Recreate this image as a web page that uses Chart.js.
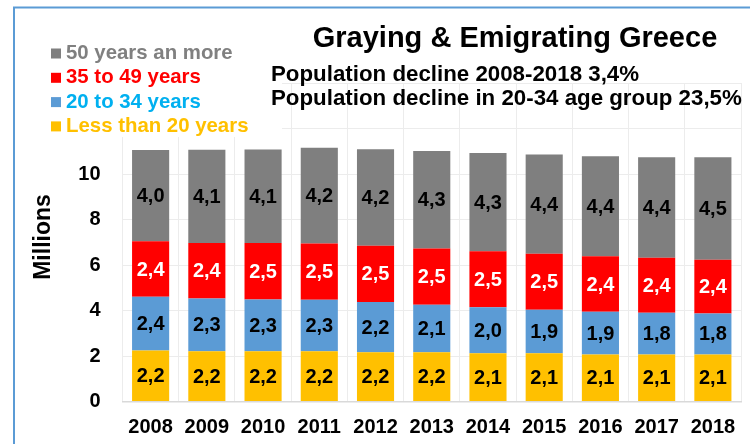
<!DOCTYPE html>
<html>
<head>
<meta charset="utf-8">
<script src="https://cdn.jsdelivr.net/npm/chart.js@4"></script>
<style>
  html, body { margin: 0; padding: 0; background: #fff; }
  #wrap { width: 750px; height: 444px; position: relative; }
</style>
</head>
<body>
<div id="wrap"><canvas id="popChart" width="750" height="444"></canvas></div>
<script>
// Population of Greece by age group, millions
const years = ["2008", "2009", "2010", "2011", "2012", "2013", "2014", "2015", "2016", "2017", "2018"];
const under20 = [2.24, 2.21, 2.21, 2.21, 2.17, 2.17, 2.12, 2.12, 2.07, 2.07, 2.07];
const age20to34 = [2.36, 2.32, 2.27, 2.26, 2.20, 2.08, 2.02, 1.91, 1.88, 1.83, 1.80];
const age35to49 = [2.44, 2.44, 2.49, 2.48, 2.48, 2.47, 2.46, 2.47, 2.43, 2.42, 2.36];
const age50plus = [4.02, 4.10, 4.11, 4.20, 4.24, 4.29, 4.32, 4.36, 4.40, 4.42, 4.51];
const yTicksShown = [0, 2, 4, 6, 8, 10];

const titleText = "Graying & Emigrating Greece";
const subLines = ["Population decline 2008-2018 3,4%", "Population decline in 20-34 age group 23,5%"];
const yTitle = "Millions";

const FONT = "'Liberation Sans', Arial, sans-serif";

// legend drawn top-left, oldest group first
const legendItems = [
    { text: "50 years an more", box: "#7f7f7f", color: "#808080" },
    { text: "35 to 49 years", box: "#ff0000", color: "#ff0000" },
    { text: "20 to 34 years", box: "#5b9bd5", color: "#00b0f0" },
    { text: "Less than 20 years", box: "#ffc000", color: "#ffc000" }
];

// ==========================
//   labels inside segments
// ==========================
const segmentLabels = {
    id: "segmentLabels",
    afterDatasetsDraw(chart) {
        const ctx = chart.ctx;
        ctx.save();
        ctx.font = "bold 20px " + FONT;
        ctx.textAlign = "center";
        ctx.textBaseline = "middle";
        chart.data.datasets.forEach((ds, i) => {
            const meta = chart.getDatasetMeta(i);
            meta.data.forEach((bar, j) => {
                const txt = ds.data[j].toFixed(1).replace(".", ",");
                ctx.fillStyle = ds.labelColor;
                ctx.fillText(txt, bar.x, (bar.y + bar.base) / 2 + 1);
            });
        });
        ctx.restore();
    }
};

// ==========================
//   legend, titles, frame
// ==========================
const overlay = {
    id: "overlay",
    afterDraw(chart) {
        const ctx = chart.ctx;
        ctx.save();

        // white block behind the legend
        ctx.fillStyle = "#fff";
        ctx.fillRect(15, 9, 267, 128);

        ctx.font = "bold 20.4px " + FONT;
        ctx.textAlign = "left";
        ctx.textBaseline = "alphabetic";
        legendItems.forEach((it, k) => {
            const base = 59 + k * 24.3;
            ctx.fillStyle = it.box;
            ctx.fillRect(51, base - 10.5, 10, 10);
            ctx.fillStyle = it.color;
            ctx.fillText(it.text, 66, base);
        });

        ctx.fillStyle = "#000";
        ctx.font = "bold 29px " + FONT;
        ctx.textAlign = "center";
        ctx.fillText(titleText, 515, 47);

        ctx.font = "bold 22.3px " + FONT;
        ctx.textAlign = "left";
        ctx.fillText(subLines[0], 271, 81);
        ctx.fillText(subLines[1], 271, 105);

        // axis title
        ctx.save();
        ctx.translate(43.5, 237);
        ctx.rotate(-Math.PI / 2);
        ctx.font = "bold 23px " + FONT;
        ctx.textAlign = "center";
        ctx.textBaseline = "middle";
        ctx.fillText(yTitle, 0, 0);
        ctx.restore();

        // slide frame
        ctx.strokeStyle = "#5b9bd5";
        ctx.lineWidth = 2;
        ctx.beginPath();
        ctx.moveTo(14, 444);
        ctx.lineTo(14, 7.5);
        ctx.lineTo(750, 7.5);
        ctx.stroke();

        ctx.restore();
    }
};

const ctx = document.getElementById("popChart").getContext("2d");

new Chart(ctx, {
    type: "bar",
    data: {
        labels: years,
        datasets: [
            { label: "Less than 20 years", data: under20, backgroundColor: "#ffc000", labelColor: "#000" },
            { label: "20 to 34 years", data: age20to34, backgroundColor: "#5b9bd5", labelColor: "#000" },
            { label: "35 to 49 years", data: age35to49, backgroundColor: "#ff0000", labelColor: "#fff" },
            { label: "50 years an more", data: age50plus, backgroundColor: "#7f7f7f", labelColor: "#000" }
        ]
    },
    options: {
        responsive: false,
        animation: false,
        layout: { padding: { top: 83, right: 9, left: 0, bottom: 0 } },
        datasets: { bar: { barPercentage: 0.66, categoryPercentage: 1 } },
        plugins: {
            legend: { display: false },
            title: { display: false },
            tooltip: { enabled: false }
        },
        scales: {
            x: {
                stacked: true,
                grid: { color: "#ececec", drawTicks: false },
                border: { color: "#d9d9d9", width: 1.5 },
                ticks: { color: "#000", font: { family: FONT, size: 20, weight: "bold" }, padding: 14, maxRotation: 0 },
                afterFit(scale) { scale.height = 42.5; }
            },
            y: {
                stacked: true,
                min: 0,
                max: 14,
                grid: { color: "#ececec", drawTicks: false },
                border: { display: false },
                ticks: {
                    stepSize: 2,
                    color: "#000",
                    padding: 22,
                    font: { family: FONT, size: 20, weight: "bold" },
                    callback: v => yTicksShown.includes(v) ? v : ""
                },
                afterFit(scale) { scale.width = 122.5; }
            }
        }
    },
    plugins: [segmentLabels, overlay]
});
</script>
</body>
</html>
